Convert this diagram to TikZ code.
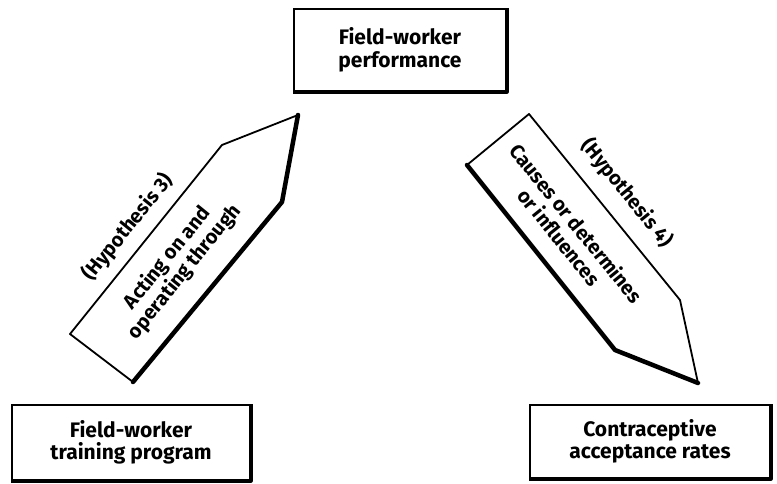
\documentclass[tikz,border=0pt]{standalone}
\usepackage{fontspec}
\setmainfont{Fira Sans}
\begin{document}
\begin{tikzpicture}[x=1pt,y=-1pt,
  box/.style={draw, line width=1.8pt, align=center, inner sep=0pt,
    font=\bfseries\fontsize{21}{22.5}\selectfont},
  lbl/.style={align=center, inner sep=0pt, font=\bfseries\fontsize{20}{22}\selectfont},
  outline/.style={line width=1.8pt, line join=round},
  shade/.style={line width=4.5pt, line cap=round, line join=round}]
\useasboundingbox (0,0) rectangle (777,484);
% boxes
\node[box, minimum width=212pt, minimum height=82pt] (perf) at (400,50) {Field-worker\\performance};
\node[box, minimum width=238pt, minimum height=75pt] (train) at (131,442.5) {Field-worker\\training program};
\node[box, minimum width=240pt, minimum height=73pt] (rates) at (650,441.5) {Contraceptive\\acceptance rates};
\foreach \b in {perf,train,rates}
  \draw[line width=3.5pt, line join=round] (\b.north east) -- (\b.south east) -- (\b.south west);
% left block arrow
\coordinate (la1) at (70,334);
\coordinate (la2) at (222,145);
\coordinate (la3) at (298,115);
\coordinate (la4) at (282,202);
\coordinate (la5) at (133,382);
\draw[outline] (la1) -- (la2) -- (la3) -- (la4) -- (la5) -- cycle;
\draw[shade] (la5) -- (la4) -- (la3);
\node[lbl, rotate=51] (h3) at (128,227) {(Hypothesis 3)};
\node[lbl, rotate=51] (act) at (176,265) {Acting on and\\operating through};
% right block arrow
\coordinate (ra1) at (467,165);
\coordinate (ra2) at (529,114);
\coordinate (ra3) at (680,300);
\coordinate (ra4) at (698,383);
\coordinate (ra5) at (615,350);
\draw[outline] (ra1) -- (ra2) -- (ra3) -- (ra4) -- (ra5) -- cycle;
\draw[shade] (ra1) -- (ra5) -- (ra4);
\node[lbl, rotate=-51] (h4) at (627,193) {(Hypothesis 4)};
\node[lbl, rotate=-51] (cause) at (568,230) {Causes or determines\\or influences};
\end{tikzpicture}
\end{document}
